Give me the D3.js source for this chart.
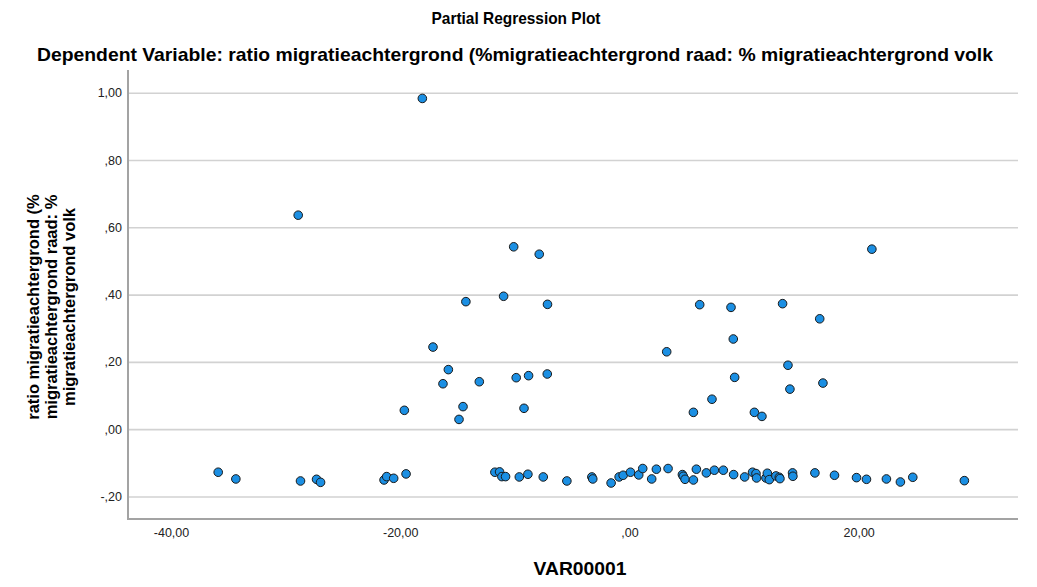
<!DOCTYPE html>
<html>
<head>
<meta charset="utf-8">
<script src="https://cdn.jsdelivr.net/npm/d3@7"></script>
<style>
  html, body { margin: 0; padding: 0; background: #fff; }
  svg { display: block; font-family: "Liberation Sans", Arial, sans-serif; }
</style>
</head>
<body>
<svg id="chart" width="1037" height="587"></svg>
<script>
const chartTitle = "Partial Regression Plot";
const chartSubtitle = "Dependent Variable: ratio migratieachtergrond (%migratieachtergrond raad: % migratieachtergrond volk";
const xAxisTitle = "VAR00001";
const yAxisTitleLines = ["ratio migratieachtergrond (%", "migratieachtergrond raad: %", "migratieachtergrond volk"];

const xTicks = [-40, -20, 0, 20];
const xTickLabels = ["-40,00", "-20,00", ",00", "20,00"];
const yTicks = [-0.2, 0, 0.2, 0.4, 0.6, 0.8, 1.0];
const yTickLabels = ["-,20", ",00", ",20", ",40", ",60", ",80", "1,00"];

const xValues = [
  -18.07, -28.9, -10.1, -7.87, -14.27, -10.98, -7.15, -17.14, -15.8, -16.27, -13.1, -9.88, -8.8, -7.17,
  -19.64, -14.52, -14.87, -9.2, 21.15, 6.13, 8.86, 13.36, 16.6, 9.06, 3.25, 13.83, 9.18, 16.88, 14.0,
  7.2, 5.58, 10.9, 11.56,
  -35.88, -34.34, -28.7, -27.3, -26.95, -21.41, -21.18, -20.57, -19.49,
  -11.74, -11.33, -11.13, -10.81, -9.61, -8.86, -7.52, -5.46, -3.28, -3.2, -1.6, -0.9, -0.55, 0.09,
  0.81, 1.16, 1.94, 2.35, 3.37, 4.62, 4.7, 4.85, 5.58, 5.84, 6.71, 7.41,
  8.19, 9.09, 10.05, 10.74, 11.04, 11.09, 11.91, 12.03, 12.2, 12.78, 13.07, 13.13, 14.23, 14.26,
  16.18, 17.89, 19.81, 20.68, 22.42, 23.64, 24.72, 29.22
];
const yValues = [
  0.983, 0.636, 0.542, 0.520, 0.379, 0.395, 0.371, 0.244, 0.177, 0.135, 0.141, 0.153, 0.159, 0.164,
  0.056, 0.067, 0.029, 0.062, 0.535, 0.370, 0.362, 0.373, 0.328, 0.268, 0.230, 0.190, 0.154, 0.137, 0.119,
  0.089, 0.050, 0.050, 0.038,
  -0.128, -0.148, -0.154, -0.149, -0.158, -0.151, -0.141, -0.146, -0.133,
  -0.128, -0.127, -0.141, -0.141, -0.142, -0.134, -0.142, -0.154, -0.142, -0.148, -0.160, -0.142, -0.137, -0.128,
  -0.136, -0.117, -0.148, -0.119, -0.117, -0.135, -0.140, -0.149, -0.151, -0.119, -0.130, -0.122,
  -0.122, -0.135, -0.142, -0.128, -0.132, -0.145, -0.145, -0.131, -0.150, -0.139, -0.143, -0.147, -0.130, -0.140,
  -0.130, -0.137, -0.144, -0.149, -0.148, -0.157, -0.143, -0.153
];

const svg = d3.select("#chart");
const plotLeft = 128, plotRight = 1018, plotTop = 70, plotBottom = 519;

const x = d3.scaleLinear().domain([-43.75, 33.9]).range([plotLeft, plotRight]);
const y = d3.scaleLinear().domain([-0.267, 1.0675]).range([plotBottom, plotTop]);

// Titles
svg.append("text")
  .attr("x", 516).attr("y", 24)
  .attr("text-anchor", "middle")
  .attr("font-size", 17).attr("font-weight", "bold").attr("fill", "#000")
  .attr("textLength", 169).attr("lengthAdjust", "spacingAndGlyphs")
  .text(chartTitle);
svg.append("text")
  .attr("x", 515).attr("y", 61)
  .attr("text-anchor", "middle")
  .attr("font-size", 18.5).attr("font-weight", "bold").attr("fill", "#000")
  .attr("textLength", 956).attr("lengthAdjust", "spacingAndGlyphs")
  .text(chartSubtitle);

// Y axis with gridlines
const yAxis = d3.axisLeft(y)
  .tickValues(yTicks)
  .tickSize(-(plotRight - plotLeft))
  .tickPadding(6)
  .tickFormat((d, i) => yTickLabels[i]);
const gy = svg.append("g").attr("transform", `translate(${plotLeft},0)`).call(yAxis);
gy.select(".domain").remove();
gy.selectAll(".tick line").attr("stroke", "#d2d2d2").attr("stroke-width", 1.6);
gy.selectAll(".tick text").attr("font-size", 12.5).attr("fill", "#222")
  .attr("font-family", "'Liberation Sans', Arial, sans-serif");

// X axis
const xAxis = d3.axisBottom(x)
  .tickValues(xTicks)
  .tickSize(0)
  .tickPadding(9)
  .tickFormat((d, i) => xTickLabels[i]);
const gx = svg.append("g").attr("transform", `translate(0,${plotBottom})`).call(xAxis);
gx.select(".domain").remove();
gx.selectAll(".tick text").attr("font-size", 12.5).attr("fill", "#222")
  .attr("font-family", "'Liberation Sans', Arial, sans-serif");

// Axis lines
svg.append("line").attr("x1", plotLeft).attr("x2", plotLeft).attr("y1", plotTop).attr("y2", plotBottom + 1)
  .attr("stroke", "#a3a3a3").attr("stroke-width", 2);
svg.append("line").attr("x1", plotLeft - 1).attr("x2", plotRight).attr("y1", plotBottom).attr("y2", plotBottom)
  .attr("stroke", "#a3a3a3").attr("stroke-width", 2);

// Axis titles
svg.append("text")
  .attr("x", 580).attr("y", 575)
  .attr("text-anchor", "middle")
  .attr("font-size", 19).attr("font-weight", "bold").attr("fill", "#000")
  .attr("textLength", 93).attr("lengthAdjust", "spacingAndGlyphs")
  .text(xAxisTitle);

const yTitleBaselines = [39, 57, 75];
const yTitleCenter = 307;
yAxisTitleLines.forEach((line, i) => {
  svg.append("text")
    .attr("transform", `translate(${yTitleBaselines[i]},${yTitleCenter}) rotate(-90)`)
    .attr("text-anchor", "middle")
    .attr("font-size", 16.5).attr("font-weight", "bold").attr("fill", "#000")
    .text(line);
});

// Points
const pts = xValues.map((v, i) => ({ x: v, y: yValues[i] }));
svg.append("g").selectAll("circle")
  .data(pts)
  .join("circle")
  .attr("cx", d => x(d.x))
  .attr("cy", d => y(d.y))
  .attr("r", 4.3)
  .attr("fill", "#1b8fe3")
  .attr("stroke", "#1a1a1a")
  .attr("stroke-width", 1);
</script>
</body>
</html>
